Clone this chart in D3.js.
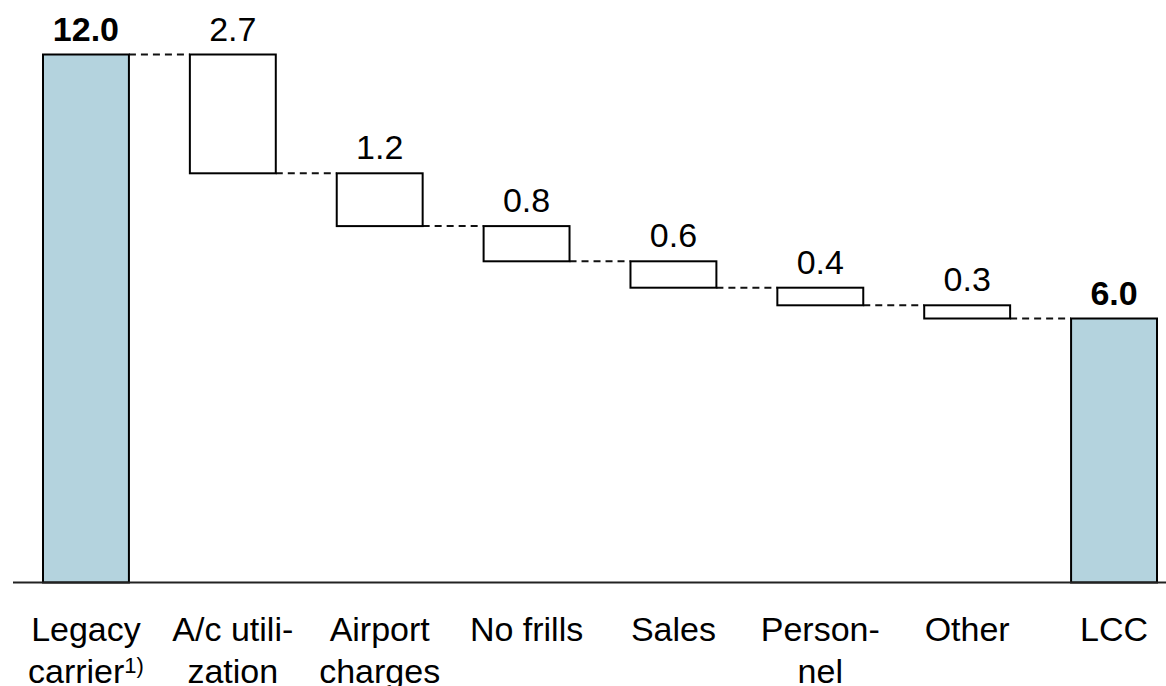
<!DOCTYPE html>
<html>
<head>
<meta charset="utf-8">
<script src="https://cdn.jsdelivr.net/npm/d3@7"></script>
<style>
  html, body { margin: 0; padding: 0; background: #fff; }
  svg { display: block; }
  text { font-family: "Liberation Sans", Arial, sans-serif; fill: #000; }
</style>
</head>
<body>
<svg id="chart" width="1166" height="686"></svg>
<script>
// Cost per seat: legacy carrier vs. low-cost carrier, broken down by driver
const categories = ["Legacy carrier", "A/c utilization", "Airport charges", "No frills", "Sales", "Personnel", "Other", "LCC"];
const labelLines = [["Legacy", "carrier"], ["A/c utili-", "zation"], ["Airport", "charges"], ["No frills"], ["Sales"], ["Person-", "nel"], ["Other"], ["LCC"]];
const values = [12.0, 2.7, 1.2, 0.8, 0.6, 0.4, 0.3, 6.0];
const kinds = ["total", "step", "step", "step", "step", "step", "step", "total"];
const valueLabels = ["12.0", "2.7", "1.2", "0.8", "0.6", "0.4", "0.3", "6.0"];

// Build waterfall segments: totals start at zero, steps hang down from the running level
let level = 0;
const segments = categories.map((c, i) => {
  let lo, hi;
  if (kinds[i] === "total") { lo = 0; hi = values[i]; level = values[i]; }
  else { hi = level; lo = level - values[i]; level = lo; }
  return { cat: c, lo, hi, kind: kinds[i], label: valueLabels[i], lines: labelLines[i] };
});

const svg = d3.select("#chart");

const x = d3.scaleBand().domain(categories).range([43, 1157]).paddingInner(0.415).paddingOuter(0);
const y = d3.scaleLinear().domain([0, 12]).range([582.5, 54.5]);

// Dashed connectors between consecutive bars, at the top of the next bar
const connectors = segments.slice(0, -1).map((s, i) => {
  const next = segments[i + 1];
  return { x1: x(s.cat) + x.bandwidth(), x2: x(next.cat), v: next.hi };
});
svg.append("g").selectAll("line").data(connectors).join("line")
  .attr("x1", d => d.x1).attr("x2", d => d.x2)
  .attr("y1", d => y(d.v)).attr("y2", d => y(d.v))
  .attr("stroke", "#111").attr("stroke-width", 2)
  .attr("stroke-dasharray", "7,5");

// Bars
svg.append("g").selectAll("rect").data(segments).join("rect")
  .attr("x", d => x(d.cat))
  .attr("y", d => y(d.hi))
  .attr("width", x.bandwidth())
  .attr("height", d => y(d.lo) - y(d.hi))
  .attr("fill", d => d.kind === "total" ? "#b4d3de" : "#fff")
  .attr("stroke", "#000").attr("stroke-width", 2);

// Baseline
svg.append("line")
  .attr("x1", 13).attr("x2", 1166)
  .attr("y1", y(0)).attr("y2", y(0))
  .attr("stroke", "#222").attr("stroke-width", 2);

// Value labels above each bar
svg.append("g").selectAll("text").data(segments).join("text")
  .attr("x", d => x(d.cat) + x.bandwidth() / 2)
  .attr("y", d => y(d.hi) - 14)
  .attr("text-anchor", "middle")
  .attr("font-size", 34)
  .attr("font-weight", d => d.kind === "total" ? "bold" : "normal")
  .text(d => d.label);

// Category labels below the axis
const catG = svg.append("g");
segments.forEach((s, i) => {
  const cx = x(s.cat) + x.bandwidth() / 2;
  s.lines.forEach((ln, j) => {
    const t = catG.append("text")
      .attr("x", cx)
      .attr("y", 641 + j * 42)
      .attr("text-anchor", "middle")
      .attr("font-size", 34);
    t.append("tspan").text(ln);
    if (i === 0 && j === 1) {
      t.append("tspan").attr("dy", -10).attr("font-size", 22).text("1)");
    }
  });
});
</script>
</body>
</html>
